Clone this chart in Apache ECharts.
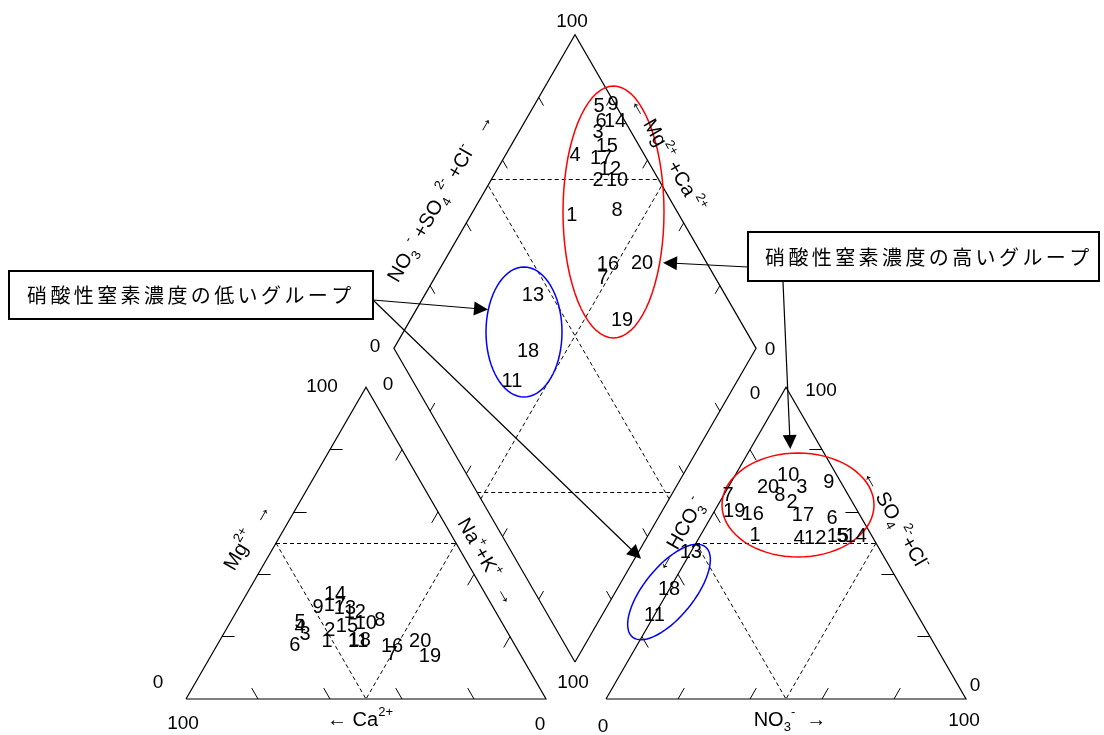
<!DOCTYPE html>
<html><head><meta charset="utf-8">
<script src="https://cdn.jsdelivr.net/npm/echarts@6/dist/echarts.min.js"></script>
<style>html,body{margin:0;padding:0;background:#fff}#c{width:1104px;height:735px}</style>
</head><body><div id="c"></div>
<script>
// ---------------- DATA (percentages) ----------------
const samples = ['1','2','3','4','5','6','7','8','9','10','11','12','13','14','15','16','17','18','19','20'];
// cation triangle (meq %)
const cationCa  = [51.7,49.0,56.5,56.9,56.0,61.1,35.6,33.5,48.6,38.0,42.9,39.3,41.4,41.9,43.6,34.4,43.6,42.3,25.5,25.8];
const cationMg  = [18.3,22.1,20.8,22.8,24.7,17.3,14.4,25.3,29.5,24.1,18.6,27.6,28.9,33.4,23.4,16.7,30.1,18.9,13.5,18.3];
const cationNaK = [30.0,28.9,22.7,20.3,19.3,21.6,50.0,41.2,21.9,37.9,38.5,33.1,29.7,24.7,33.0,48.9,26.3,38.8,61.0,55.9];
// anion triangle (meq %)
const anionHCO3  = [32.3,16.9,11.6,20.6,8.4,8.2,33.4,19.0,3.3,13.5,73.1,16.1,52.9,4.6,9.6,29.6,15.8,65.0,34.4,21.0];
const anionSO4Cl = [52.6,62.9,68.0,51.6,52.0,58.0,65.4,65.4,69.6,71.8,26.9,51.6,47.1,52.0,52.0,59.3,59.0,35.0,60.0,68.0];
const anionNO3   = [15.1,20.2,20.4,27.8,39.6,33.8,1.2,15.6,27.1,14.7,0.0,32.3,0.0,43.4,38.4,11.1,25.2,0.0,5.6,11.0];
// diamond (Mg+Ca %, NO3+SO4+Cl %)
const diamondCaMg  = [72.1,70.4,78.1,80.8,81.9,79.0,53.5,60.4,78.4,65.1,62.1,68.9,70.1,75.1,73.4,54.2,73.1,62.4,41.5,45.1];
const diamondAnion = [70.4,83.1,90.8,80.8,95.2,93.4,68.9,83.6,99.4,88.3,27.3,88.2,46.9,97.2,91.0,72.4,87.5,36.5,67.5,82.1];
// axis ticks & tick labels
const tickValues = [20,40,60,80];
const tickLabels = ['0','100'];
const groupLow  = '硝酸性窒素濃度の低いグループ';
const groupHigh = '硝酸性窒素濃度の高いグループ';

// ---------------- LAYOUT ----------------
const FONT = '"Liberation Sans", Arial, sans-serif';
const JFONT = '"Noto Sans CJK JP", sans-serif';
const H = Math.sqrt(3)/2;
const PXU = 3.6;                 // pixels per chart unit
const ORG = [186, 699];          // pixel of chart unit (0,0)
const X_MIN = -ORG[0]/PXU, X_MAX = (1104-ORG[0])/PXU;
const Y_MIN = -(735-ORG[1])/PXU, Y_MAX = ORG[1]/PXU;
const P = (px,py)=>[(px-ORG[0])/PXU,(ORG[1]-py)/PXU];   // annotation placement helper
const CAT = {x:0, y:0, s:100};
const AN  = {x:(606-186)/PXU, y:0, s:100};
const DIA = {x:(575-186)/PXU, y:(699-662)/PXU, s:100.6};
const DIA_SHIFT = 2;   // inner dashed grid of the diamond sits slightly off-centre in the original

function catXY(mg,nak){ return [CAT.x+(nak+mg/2)*CAT.s/100, CAT.y+mg*H*CAT.s/100]; }
function anXY(s,no3){ return [AN.x+(no3+s/2)*AN.s/100, AN.y+s*H*AN.s/100]; }
function diaXY(p,q){ return [DIA.x+(q-p)/100*DIA.s/2, DIA.y+(p+q)/100*DIA.s*H]; }

// frames
const frames = [
  [catXY(0,0), catXY(0,100), catXY(100,0), catXY(0,0)],
  [anXY(0,0), anXY(0,100), anXY(100,0), anXY(0,0)],
  [diaXY(0,0), diaXY(100,0), diaXY(100,100), diaXY(0,100), diaXY(0,0)]
];
const g = 50+DIA_SHIFT;
const dashed = [
  [catXY(50,0), catXY(50,50)], [catXY(50,0), catXY(0,50)], [catXY(50,50), catXY(0,50)],
  [anXY(50,0), anXY(50,50)], [anXY(50,0), anXY(0,50)], [anXY(50,50), anXY(0,50)],
  [diaXY(0,g), diaXY(100,g)], [diaXY(g,0), diaXY(g,100)],
  [diaXY(100,g+DIA_SHIFT), diaXY(g+DIA_SHIFT,100)], [diaXY(g+DIA_SHIFT,0), diaXY(0,g+DIA_SHIFT)]
];
const T = 3.5, TD = 2.6;
const ticks = [];
tickValues.forEach(v=>{
  ticks.push([catXY(v,0), catXY(v,T)]);              // Mg (left edge)
  ticks.push([catXY(0,100-v), catXY(T,100-v-T)]);    // Ca (base)
  ticks.push([catXY(100-v,v), catXY(100-v-T,v)]);    // Na+K (right edge)
  ticks.push([anXY(100-v,0), anXY(100-v-T,T)]);      // HCO3 (left edge)
  ticks.push([anXY(0,v), anXY(T,v)]);                // NO3 (base)
  ticks.push([anXY(v,100-v), anXY(v,100-v-T)]);      // SO4+Cl (right edge)
  ticks.push([diaXY(100,v), diaXY(100-TD,v)]);
  ticks.push([diaXY(v,100), diaXY(v,100-TD)]);
  ticks.push([diaXY(v,0), diaXY(v,TD)]);
  ticks.push([diaXY(0,v), diaXY(TD,v)]);
});

function ellipse(c, rx, ry, rotDeg){
  const pts=[], r=rotDeg*Math.PI/180;
  for(let i=0;i<=72;i++){
    const t=i/72*2*Math.PI, ex=rx*Math.cos(t), ey=ry*Math.sin(t);
    pts.push([c[0]+(ex*Math.cos(r)-ey*Math.sin(r))/PXU, c[1]+(ex*Math.sin(r)+ey*Math.cos(r))/PXU]);
  }
  return pts;
}
const ellipses = [
  {pts: ellipse(P(613.5,212), 50.5, 126, 0), color:'#ff0000'},
  {pts: ellipse(P(524,332), 38, 65, 0), color:'#0000ff'},
  {pts: ellipse(P(798,505), 76, 52, 0), color:'#ff0000'},
  {pts: ellipse(P(669,592), 58, 25, 51), color:'#0000ff'}
];
const arrows = [
  [P(373,300), P(481,309)],
  [P(373,300), P(636,554)],
  [P(748,267), P(670,263)],
  [P(783,282), P(790,442)]
];

const RICH = {
  n:   {fontSize:20, fontFamily:FONT, lineHeight:28, fill:'#000'},
  sup: {fontSize:13, fontFamily:FONT, lineHeight:15, verticalAlign:'top', fill:'#000'},
  sub: {fontSize:13, fontFamily:FONT, lineHeight:15, verticalAlign:'bottom', fill:'#000'}
};
const R60 = Math.PI/3;
const titles = [
  {at:P(248,537), rot:R60,  t:'{n|Mg}{sup|2+}{n|  →}'},
  {at:P(360,720), rot:0,    t:'{n|← Ca}{sup|2+}'},
  {at:P(486,562), rot:-R60, t:'{n|Na}{sup|+}{n|+K}{sup|+}{n|  →}'},
  {at:P(441,198), rot:R60,  t:'{n|NO}{sub|3}{sup| -}{n| +SO}{sub|4}{sup| 2-}{n| +Cl}{sup|-}{n|   →}'},
  {at:P(667,155), rot:-R60, t:'{n|← Mg}{sup|2+}{n| +Ca}{sup| 2+}'},
  {at:P(680,535), rot:R60,  t:'{n|← HCO}{sub|3}{sup|-}'},
  {at:P(790,720), rot:0,    t:'{n|NO}{sub|3}{sup|-}{n|  →}'},
  {at:P(895,520), rot:-R60, t:'{n|← SO}{sub|4}{sup| 2-}{n|+Cl}{sup|-}'}
];
const cornerText = [
  {at:catXY(100,0), off:[-44,0], t:tickLabels[1]}, {at:catXY(100,0), off:[22,-2], t:tickLabels[0]},
  {at:catXY(0,0), off:[-28,-16], t:tickLabels[0]}, {at:catXY(0,0), off:[-3,25], t:tickLabels[1]},
  {at:catXY(0,100), off:[-6,26], t:tickLabels[0]}, {at:catXY(0,100), off:[27,-16], t:tickLabels[1]},
  {at:anXY(100,0), off:[-31,7], t:tickLabels[0]}, {at:anXY(100,0), off:[35,4], t:tickLabels[1]},
  {at:anXY(0,0), off:[-3,28], t:tickLabels[0]},
  {at:anXY(0,100), off:[-2,22], t:tickLabels[1]}, {at:anXY(0,100), off:[9,-13], t:tickLabels[0]},
  {at:diaXY(100,100), off:[-3,-13], t:tickLabels[1]},
  {at:diaXY(100,0), off:[-19,-2], t:tickLabels[0]},
  {at:diaXY(0,100), off:[14,1], t:tickLabels[0]}
];
const boxes = [
  {tl:P(9,271), br:P(373,319), text:groupLow, first:P(37,295)},
  {tl:P(748,232), br:P(1099,281), text:groupHigh, first:P(775,257)}
];
const CH_PITCH = 23.4;

function renderAnnot(params, api){
  const ch=[];
  const C = p=>api.coord(p);
  cornerText.forEach(o=>{
    const c=C(o.at);
    ch.push({type:'text', x:c[0]+o.off[0], y:c[1]+o.off[1],
      style:{text:o.t, fill:'#000', fontSize:19, fontFamily:FONT, align:'center', verticalAlign:'middle'}});
  });
  titles.forEach(o=>{
    const c=C(o.at);
    ch.push({type:'text', x:c[0], y:c[1], rotation:o.rot,
      style:{text:o.t, rich:RICH, fill:'#000', align:'center', verticalAlign:'middle'}});
  });
  boxes.forEach(b=>{
    const a=C(b.tl), z=C(b.br);
    ch.push({type:'rect', shape:{x:a[0], y:a[1], width:z[0]-a[0], height:z[1]-a[1]},
      style:{fill:'#fff', stroke:'#000', lineWidth:2}});
    const f=C(b.first);
    Array.from(b.text).forEach((s,i)=>{
      ch.push({type:'text', x:f[0]+i*CH_PITCH, y:f[1],
        style:{text:s, fill:'#000', fontSize:20, fontFamily:JFONT, align:'center', verticalAlign:'middle'}});
    });
  });
  return {type:'group', children:ch};
}

function labelSeries(data){
  return {type:'scatter', data, symbolSize:0.5, itemStyle:{color:'#000', opacity:1}, silent:true, z:5,
    label:{show:true, position:'inside', formatter:'{b}', color:'#000', opacity:1, fontSize:20, fontFamily:FONT}};
}

const chart = echarts.init(document.getElementById('c'));
chart.setOption({
  animation:false,
  backgroundColor:'#fff',
  grid:{left:0, right:0, top:0, bottom:0},
  xAxis:{type:'value', min:X_MIN, max:X_MAX, show:false},
  yAxis:{type:'value', min:Y_MIN, max:Y_MAX, show:false},
  series:[
    {type:'lines', coordinateSystem:'cartesian2d', polyline:true, silent:true,
      data: frames.map(f=>({coords:f})), lineStyle:{color:'#000', width:1.2, opacity:1}},
    {type:'lines', coordinateSystem:'cartesian2d', silent:true,
      data: dashed.map(f=>({coords:f})), lineStyle:{color:'#000', width:1, type:[4,3], opacity:1}},
    {type:'lines', coordinateSystem:'cartesian2d', silent:true,
      data: ticks.map(f=>({coords:f})), lineStyle:{color:'#000', width:1, opacity:1}},
    {type:'lines', coordinateSystem:'cartesian2d', polyline:true, silent:true,
      data: ellipses.map(e=>({coords:e.pts, lineStyle:{color:e.color}})), lineStyle:{width:1.5, opacity:1}},
    {type:'lines', coordinateSystem:'cartesian2d', silent:true, z:4,
      symbol:['none','triangle'], symbolSize:14,
      data: arrows.map(f=>({coords:f})), lineStyle:{color:'#000', width:1.2, opacity:1}},
    {type:'custom', coordinateSystem:'cartesian2d', renderItem:renderAnnot, data:[[0,0]], silent:true, z:6},
    labelSeries(samples.map((s,i)=>({name:s, value:catXY(cationMg[i], cationNaK[i])}))),
    labelSeries(samples.map((s,i)=>({name:s, value:anXY(anionSO4Cl[i], anionNO3[i])}))),
    labelSeries(samples.map((s,i)=>({name:s, value:diaXY(diamondCaMg[i], diamondAnion[i])})))
  ]
});
</script></body></html>
